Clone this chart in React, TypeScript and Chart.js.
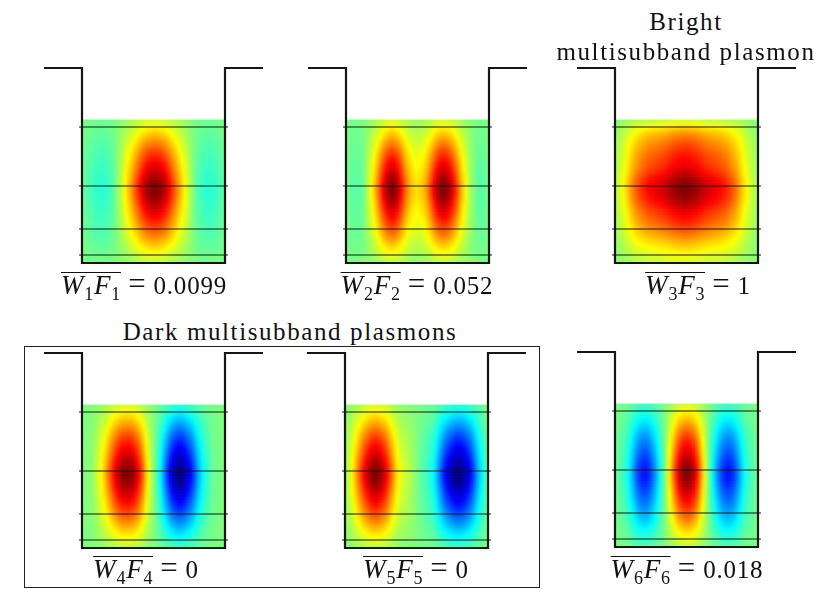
import React, { useEffect, useRef } from 'react';
import { Chart, registerables } from 'chart.js';

Chart.register(...registerables);

// well outline, 1 unit = 1 px on the page
const wellX = [-38, 0, 0, 143, 143, 181];
const wellY = [195, 195, 0, 0, 195, 195];
const subbandLevels = [136, 77, 34, 8];
const levelSpan = [-3, 146];
const fieldTop = 143;

// vertical shape of the field, top row to bottom row
const zShape = [
  0.18, 0.23, 0.27, 0.31, 0.35, 0.40, 0.44, 0.49, 0.53, 0.58, 0.62, 0.66,
  0.70, 0.73, 0.77, 0.80, 0.83, 0.865, 0.90, 0.93, 0.96, 0.985, 0.997, 1.0,
  0.995, 0.975, 0.95, 0.92, 0.89, 0.855, 0.82, 0.79, 0.755, 0.72, 0.68, 0.645,
  0.605, 0.565, 0.52, 0.48, 0.43, 0.385, 0.34, 0.295, 0.255, 0.215, 0.175, 0.135,
];
const zShapeBright = [
  0.17, 0.27, 0.33, 0.40, 0.46, 0.51, 0.55, 0.59, 0.62, 0.65, 0.68, 0.71,
  0.73, 0.75, 0.77, 0.79, 0.82, 0.85, 0.89, 0.93, 0.96, 0.98, 1.0, 1.0,
  0.99, 0.97, 0.95, 0.92, 0.89, 0.85, 0.81, 0.78, 0.75, 0.72, 0.69, 0.65,
  0.61, 0.57, 0.52, 0.48, 0.43, 0.39, 0.35, 0.31, 0.27, 0.24, 0.21, 0.18,
];

// horizontal shape of each plasmon at the middle row, left to right
const xShape1 = [
  -0.05, -0.08, -0.10, -0.125, -0.145, -0.16, -0.17, -0.165, -0.145, -0.115, -0.07, -0.02,
  0.08, 0.17, 0.26, 0.35, 0.44, 0.54, 0.64, 0.74, 0.83, 0.91, 0.96, 0.99,
  1.0, 0.99, 0.96, 0.91, 0.83, 0.74, 0.64, 0.54, 0.44, 0.35, 0.26, 0.17,
  0.08, -0.01, -0.07, -0.11, -0.145, -0.165, -0.17, -0.165, -0.15, -0.125, -0.10, -0.07,
];
const xShape2 = [
  -0.02, -0.05, -0.07, -0.08, -0.07, -0.04, 0.02, 0.14, 0.24, 0.35, 0.48, 0.62,
  0.77, 0.88, 0.97, 1.0, 0.97, 0.88, 0.76, 0.62, 0.50, 0.41, 0.35, 0.32,
  0.32, 0.35, 0.41, 0.50, 0.62, 0.76, 0.88, 0.96, 1.0, 0.99, 0.93, 0.84,
  0.72, 0.58, 0.44, 0.32, 0.21, 0.11, 0.03, -0.04, -0.07, -0.08, -0.06, -0.03,
];
const xShape3 = [
  0.12, 0.17, 0.23, 0.30, 0.38, 0.46, 0.53, 0.59, 0.64, 0.68, 0.72, 0.75,
  0.77, 0.79, 0.81, 0.83, 0.85, 0.88, 0.91, 0.94, 0.96, 0.98, 0.995, 1.0,
  0.995, 0.98, 0.96, 0.94, 0.91, 0.88, 0.85, 0.83, 0.81, 0.79, 0.77, 0.75,
  0.72, 0.68, 0.64, 0.59, 0.53, 0.46, 0.38, 0.30, 0.23, 0.17, 0.12, 0.10,
];
const xShape4 = [
  0.0, 0.01, 0.02, 0.04, 0.11, 0.18, 0.26, 0.36, 0.47, 0.59, 0.71, 0.82,
  0.90, 0.97, 0.99, 1.0, 0.98, 0.92, 0.82, 0.71, 0.55, 0.37, 0.22, 0.09,
  -0.03, -0.16, -0.29, -0.45, -0.61, -0.76, -0.87, -0.96, -1.0, -0.99, -0.93, -0.84,
  -0.75, -0.63, -0.49, -0.37, -0.27, -0.19, -0.13, -0.07, -0.04, -0.02, -0.01, 0.0,
];
const xShape5 = [
  0.08, 0.17, 0.28, 0.39, 0.52, 0.64, 0.76, 0.85, 0.94, 0.99, 1.0, 0.97,
  0.90, 0.82, 0.70, 0.56, 0.43, 0.31, 0.22, 0.18, 0.15, 0.11, 0.07, 0.03,
  -0.02, -0.06, -0.10, -0.14, -0.18, -0.23, -0.33, -0.47, -0.60, -0.72, -0.82, -0.89,
  -0.96, -1.0, -1.0, -0.97, -0.90, -0.82, -0.71, -0.57, -0.43, -0.31, -0.21, -0.11,
];
const xShape6 = [
  -0.05, -0.08, -0.12, -0.17, -0.25, -0.36, -0.48, -0.59, -0.67, -0.71, -0.71, -0.66,
  -0.57, -0.46, -0.33, -0.20, -0.05, 0.14, 0.31, 0.50, 0.67, 0.82, 0.92, 0.99,
  1.0, 0.95, 0.87, 0.73, 0.55, 0.35, 0.16, -0.03, -0.20, -0.35, -0.48, -0.59,
  -0.67, -0.71, -0.71, -0.67, -0.58, -0.47, -0.35, -0.24, -0.17, -0.12, -0.08, -0.05,
];

// jet colormap, v runs from -1 to 1
const jet = (v: number) => {
  const t = 0.5 + v / 2;
  const ramp = (a: number) => Math.max(0, Math.min(1, 1.5 - Math.abs(4 * t - a)));
  const c = (a: number) => Math.round(255 * ramp(a));
  return `rgb(${c(3)},${c(2)},${c(1)})`;
};

// soften the cell edges of the heat dataset before the lines go on top
const softenCells = {
  id: 'softenCells',
  afterDatasetDraw(chart: any, args: any) {
    if (chart.data.datasets[args.index].pointStyle !== 'rect') return;
    const ctx = chart.ctx;
    ctx.save();
    ctx.filter = 'blur(1.3px)';
    ctx.drawImage(ctx.canvas, 0, 0);
    ctx.restore();
  },
};

const WellChart = ({ left, top, xShape, zs }: { left: number; top: number; xShape: number[]; zs: number[] }) => {
  const ref = useRef<HTMLCanvasElement | null>(null);

  useEffect(() => {
    if (!ref.current) return;
    const cell = fieldTop / xShape.length;
    const points: { x: number; y: number }[] = [];
    const colors: string[] = [];
    zs.forEach((z, k) => {
      xShape.forEach((w, j) => {
        points.push({ x: (j + 0.5) * cell, y: fieldTop - (k + 0.5) * (fieldTop / zs.length) });
        colors.push(jet(w * z));
      });
    });

    const levelSets = subbandLevels.map((y) => ({
      data: levelSpan.map((x) => ({ x, y })),
      showLine: true,
      borderColor: '#151515',
      borderWidth: 1.1,
      pointRadius: 0,
      order: 2,
    }));

    const chart = new Chart(ref.current, {
      type: 'scatter',
      plugins: [softenCells],
      data: {
        datasets: [
          {
            data: wellX.map((x, i) => ({ x, y: wellY[i] })),
            showLine: true,
            borderColor: '#151515',
            borderWidth: 2.2,
            pointRadius: 0,
            order: 1,
          },
          ...levelSets,
          {
            data: points,
            pointStyle: 'rect',
            pointRadius: 2.25,
            pointBorderWidth: 0,
            pointBackgroundColor: colors,
            order: 3,
          },
        ],
      } as any,
      options: {
        animation: false,
        responsive: false,
        devicePixelRatio: 1,
        events: [],
        layout: { padding: 0, autoPadding: false },
        scales: {
          x: { type: 'linear', min: -48, max: 192, display: false },
          y: { type: 'linear', min: -10, max: 200, display: false },
        },
        plugins: { legend: { display: false }, tooltip: { enabled: false } },
      },
    });
    return () => chart.destroy();
  }, [xShape, zs]);

  return <canvas ref={ref} width={240} height={210} style={{ position: 'absolute', left, top, width: 240, height: 210 }} />;
};

const textStyle: React.CSSProperties = {
  position: 'absolute',
  transform: 'translateX(-50%)',
  whiteSpace: 'nowrap',
  fontFamily: '"Liberation Serif", serif',
  fontSize: 25,
  lineHeight: '28px',
  letterSpacing: 1.6,
  color: '#111',
};

const Caption = ({ cx, top, n, value }: { cx: number; top: number; n: number; value: string }) => (
  <div style={{ ...textStyle, left: cx, top, letterSpacing: 0.8 }}>
    <span style={{ borderTop: '1.3px solid #111', display: 'inline-block', lineHeight: '24px', fontSize: 27 }}>
      <i>W</i>
      <sub style={{ fontSize: 18, lineHeight: 0 }}>{n}</sub>
      <i>F</i>
      <sub style={{ fontSize: 18, lineHeight: 0 }}>{n}</sub>
    </span>
    <span style={{ fontSize: 31, lineHeight: 0, margin: '0 7px' }}>=</span>
    {value}
  </div>
);

const App = () => (
  <div style={{ position: 'absolute', left: 0, top: 0, width: 831, height: 592, background: '#fff', overflow: 'hidden' }}>
    <div style={{ position: 'absolute', left: 24, top: 346, width: 514, height: 240, border: '1.3px solid #222' }} />
    <WellChart left={34} top={63} xShape={xShape1} zs={zShape} />
    <WellChart left={298} top={63} xShape={xShape2} zs={zShape} />
    <WellChart left={567} top={63} xShape={xShape3} zs={zShapeBright} />
    <WellChart left={34} top={348} xShape={xShape4} zs={zShape} />
    <WellChart left={297} top={348} xShape={xShape5} zs={zShape} />
    <WellChart left={567} top={347} xShape={xShape6} zs={zShape} />
    <div style={{ ...textStyle, left: 686, top: 8 }}>Bright</div>
    <div style={{ ...textStyle, left: 686, top: 38 }}>multisubband plasmon</div>
    <div style={{ ...textStyle, left: 290, top: 318 }}>Dark multisubband plasmons</div>
    <Caption cx={144} top={272} n={1} value="0.0099" />
    <Caption cx={417} top={272} n={2} value="0.052" />
    <Caption cx={698} top={272} n={3} value="1" />
    <Caption cx={146} top={556} n={4} value="0" />
    <Caption cx={416} top={556} n={5} value="0" />
    <Caption cx={687} top={556} n={6} value="0.018" />
  </div>
);

export default App;
